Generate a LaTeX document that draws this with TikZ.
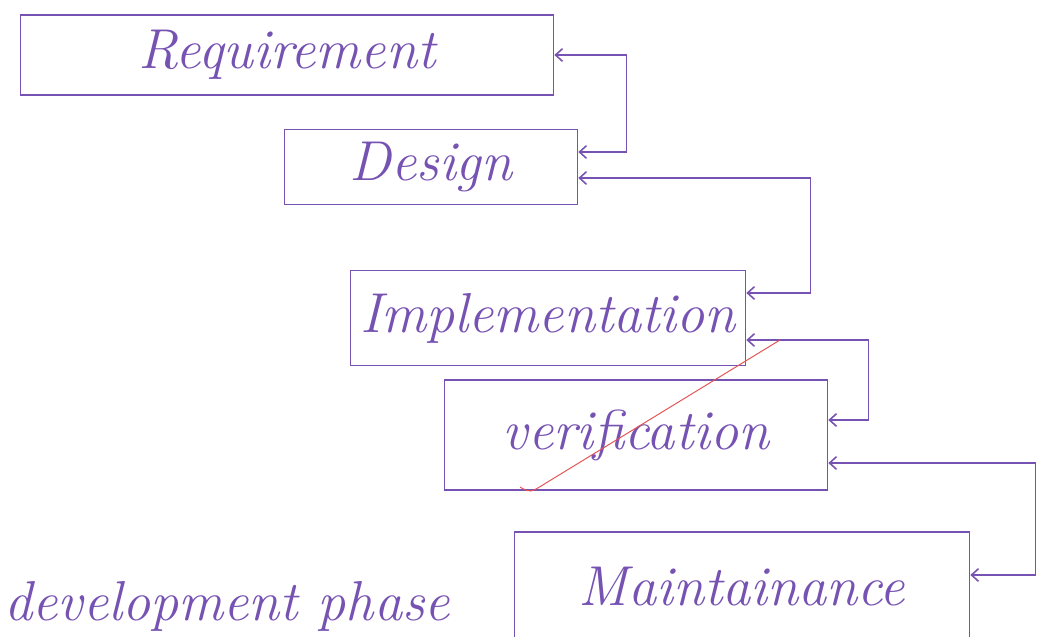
\documentclass[tikz,border=0pt]{standalone}
\usetikzlibrary{arrows.meta}
\definecolor{ink}{RGB}{118,82,178}
\definecolor{redink}{RGB}{226,84,84}
\tikzset{
  phase/.style={draw=ink, line width=1.1pt, rectangle, text=ink, inner sep=0pt,
    font=\fontsize{40}{46}\selectfont\itshape},
  link/.style={draw=ink, line width=1.1pt,
    {Straight Barb[length=5pt,width=9pt]}-{Straight Barb[length=5pt,width=9pt]}},
  note/.style={text=ink, inner sep=0pt, font=\fontsize{40}{46}\selectfont\itshape},
}
\begin{document}
\begin{tikzpicture}[x=0.025cm, y=-0.025cm]
  \useasboundingbox (0,0) rectangle (1047,637);

  % Các khối giai đoạn
  \node[phase, minimum width=13.325cm, minimum height=2cm] (req) at (287,55) {Requirement};
  \node[phase, minimum width=7.325cm, minimum height=1.875cm] (des) at (431,167) {Design};
  \node[phase, minimum width=9.875cm, minimum height=2.375cm] (imp) at (548,318) {Implementation};
  \node[phase, minimum width=9.575cm, minimum height=2.75cm] (ver) at (636,435) {verification};
  \node[phase, minimum width=11.375cm, minimum height=2.75cm] (mai) at (742,587) {Maintainance};

  % Các mũi tên nối
  \draw[link] (req.east) -- ++(72,0) |- ([yshift=0.375cm]des.east);
  \draw[link] ([yshift=-0.275cm]des.east) -- ++(232,0) |- ([yshift=0.625cm]imp.east);
  \draw[link] ([yshift=-0.55cm]imp.east) -- ++(122,0) |- ([yshift=0.375cm]ver.east);
  \draw[link] ([yshift=-0.7cm]ver.east) -- ++(207,0) |- ([yshift=0.3cm]mai.east);

  % Nét gạch đỏ
  \draw[redink, line width=0.7pt] (520,487) .. controls (530,493) .. (546,483) -- (780,340);

  % Chữ ở góc dưới
  \node[note, anchor=base west] (devphase) at (4,620) {development phase};
\end{tikzpicture}
\end{document}
